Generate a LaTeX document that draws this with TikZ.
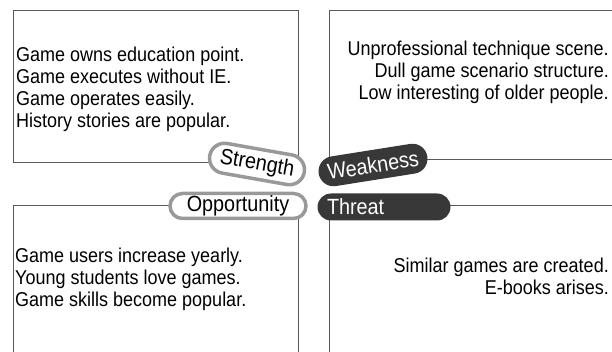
\documentclass[tikz,border=0pt]{standalone}
\usepackage{fontspec}
\setmainfont[FakeStretch=0.9]{Liberation Sans}
\usetikzlibrary{shapes.misc}
\usetikzlibrary{positioning}

\begin{document}
\begin{tikzpicture}[x=1pt,y=-1pt,every node/.style={font=\fontsize{20}{22}\selectfont,inner sep=0pt},
  box/.style={draw=black!65,line width=0.8pt},
  light/.style={rounded rectangle,draw=black!40,line width=3.5pt,fill=white,font=\fontsize{22}{24}\selectfont},
  dark/.style={rounded rectangle,fill=black!78,text=white,font=\fontsize{22}{24}\selectfont}]
  \useasboundingbox (0,0) rectangle (612,352);

  % the four fields
  \draw[box] (13,10) rectangle (298,162);
  \draw[box] (612,10) -| (329,159) -- (612,159);
  \draw[box] (13,352) |- (298,205) -- (298,352);
  \draw[box] (329,352) |- (612,205);

  \node[anchor=west,align=left] (strtext) at (16,89) {Game owns education point.\\Game executes without IE.\\Game operates easily.\\History stories are popular.};
  \node[anchor=east,align=right] (weaktext) at (609,72) {Unprofessional technique scene.\\Dull game scenario structure.\\Low interesting of older people.};
  \node[anchor=west,align=left] (opptext) at (15,279) {Game users increase yearly.\\Young students love games.\\Game skills become popular.};
  \node[anchor=east,align=right] (thrtext) at (609,276) {Similar games are created.\\E-books arises.};

  % the four labels
  \node[light,minimum width=96pt,minimum height=30pt,rotate=-10] (strength) at (257,164) {Strength};
  \node[dark,minimum width=110pt,minimum height=30pt,rotate=9] (weakness) at (373,165) {Weakness};
  \node[light,minimum width=136pt,minimum height=25pt] (opportunity) at (238,206) {Opportunity};
  \node[dark,minimum width=133pt,minimum height=27pt,text width=114pt,align=left] (threat) at (384,207) {Threat};
\end{tikzpicture}
\end{document}
